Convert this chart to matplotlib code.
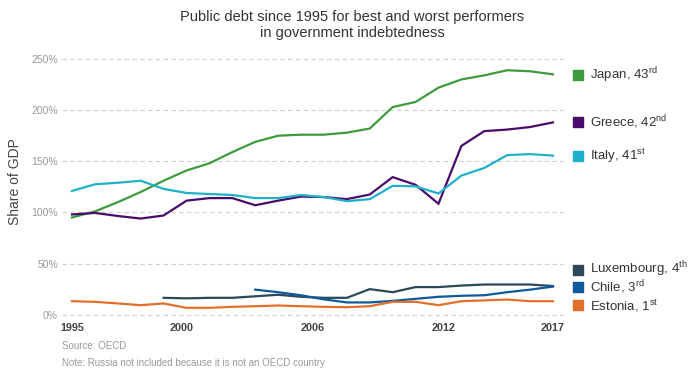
import numpy as np
import matplotlib
matplotlib.use("Agg")
import matplotlib.pyplot as plt

plt.rcParams['font.family'] = ['Liberation Sans', 'DejaVu Sans']
plt.rcParams['mathtext.fontset'] = 'custom'
plt.rcParams['mathtext.rm'] = 'Liberation Sans'

# 22 data points spread evenly over 1995-2017
n_points = 22
japan = [95, 101, 110, 120, 131, 141, 148, 159, 169, 175, 176, 176, 178, 182,
         203, 208, 222, 230, 234, 239, 238, 235]
greece = [98, 99.5, 96.5, 94, 97, 111.5, 114, 114, 107, 111.5, 115.5, 115, 113,
          117.5, 134.5, 127, 108.5, 165, 179.5, 181, 183.5, 188]
italy = [121, 127.5, 129, 131, 123, 119, 118, 117, 114, 114, 117, 115, 111, 113,
         126, 125.5, 118.5, 136, 143.5, 156, 157, 155.5]
luxembourg = [None, None, None, None, 16.5, 16, 16.5, 16.5, 18, 19.5, 17.5, 16.5,
              16.5, 25, 22, 27, 27, 28.5, 29.5, 29.5, 29.5, 28]
chile = [None] * 8 + [24.5, 22, 19, 15, 12, 12, 13.5, 15.5, 17.5, 18.5, 19, 22,
                      24.5, 27.5]
estonia = [13.2, 12.6, 11, 9.3, 11, 6.7, 6.7, 7.7, 8.3, 9, 8.3, 7.7, 7.3, 8.3,
           12.6, 12.6, 9.3, 13.2, 14, 14.8, 13.2, 13.2]

series_names = ["Japan", "Greece", "Italy", "Luxembourg", "Chile", "Estonia"]
ranks = ["43", "42", "41", "4", "3", "1"]
suffixes = ["rd", "nd", "st", "th", "rd", "st"]
colors = ["#3d9b3d", "#4a0c6b", "#1fb1c9", "#2c4859", "#0f5a9c", "#e46f2a"]
label_y = [234, 188, 155, 44, 27, 9]

tick_years = [1995, 2000, 2006, 2012, 2017]
y_ticks = [0, 50, 100, 150, 200, 250]

x = np.linspace(1995, 2017, n_points)

fig = plt.figure(figsize=(7, 3.82), dpi=100)
ax = fig.add_axes([62 / 700, 1 - 314.7 / 382, (563 - 62) / 700, (314.7 - 59) / 382])
ax.set_xlim(1995 - 10 / 21.86, 2017 + 10 / 21.86)
ax.set_ylim(0, 250)

for v in y_ticks:
    ax.axhline(v, color="#cfcfcf", lw=0.8, ls=(0, (4, 3)), zorder=0, clip_on=False)

data = [japan, greece, italy, luxembourg, chile, estonia]
for vals, c in zip(data, colors):
    arr = np.array([np.nan if v is None else v for v in vals], dtype=float)
    ax.plot(x, arr, color=c, lw=1.6, clip_on=False, solid_joinstyle='miter')

for name, r, s, c, ly in zip(series_names, ranks, suffixes, colors, label_y):
    ax.scatter([2018.15], [ly], marker='s', s=55, color=c, clip_on=False, zorder=5)
    ax.text(2018.7, ly, f"{name}, {r}$^{{\\mathrm{{{s}}}}}$", fontsize=9.5,
            color="#333333", va='center', ha='left', clip_on=False)

for s in ax.spines.values():
    s.set_visible(False)
ax.set_yticks(y_ticks)
ax.set_yticklabels([f"{v}%" for v in y_ticks], fontsize=7.5, color="#999999")
ax.set_xticks(tick_years)
ax.set_xticklabels([str(t) for t in tick_years], fontsize=7.8, color="#444444",
                   fontweight='bold')
ax.tick_params(length=0, pad=6)
ax.tick_params(axis='y', pad=3)
ax.set_ylabel("Share of GDP", fontsize=10, color="#444444")
ax.yaxis.set_label_coords(-0.08, 0.52)

fig.text(352 / 700, 1 - 17 / 382, "Public debt since 1995 for best and worst performers",
         ha='center', va='center', fontsize=10.5, color="#333333")
fig.text(352 / 700, 1 - 33 / 382, "in government indebtedness",
         ha='center', va='center', fontsize=10.5, color="#333333")
fig.text(62 / 700, 1 - 346 / 382, "Source: OECD", fontsize=7, color="#999999", va='center')
fig.text(62 / 700, 1 - 363 / 382, "Note: Russia not included because it is not an OECD country",
         fontsize=7, color="#999999", va='center')

fig.savefig("out.png", dpi=100)
